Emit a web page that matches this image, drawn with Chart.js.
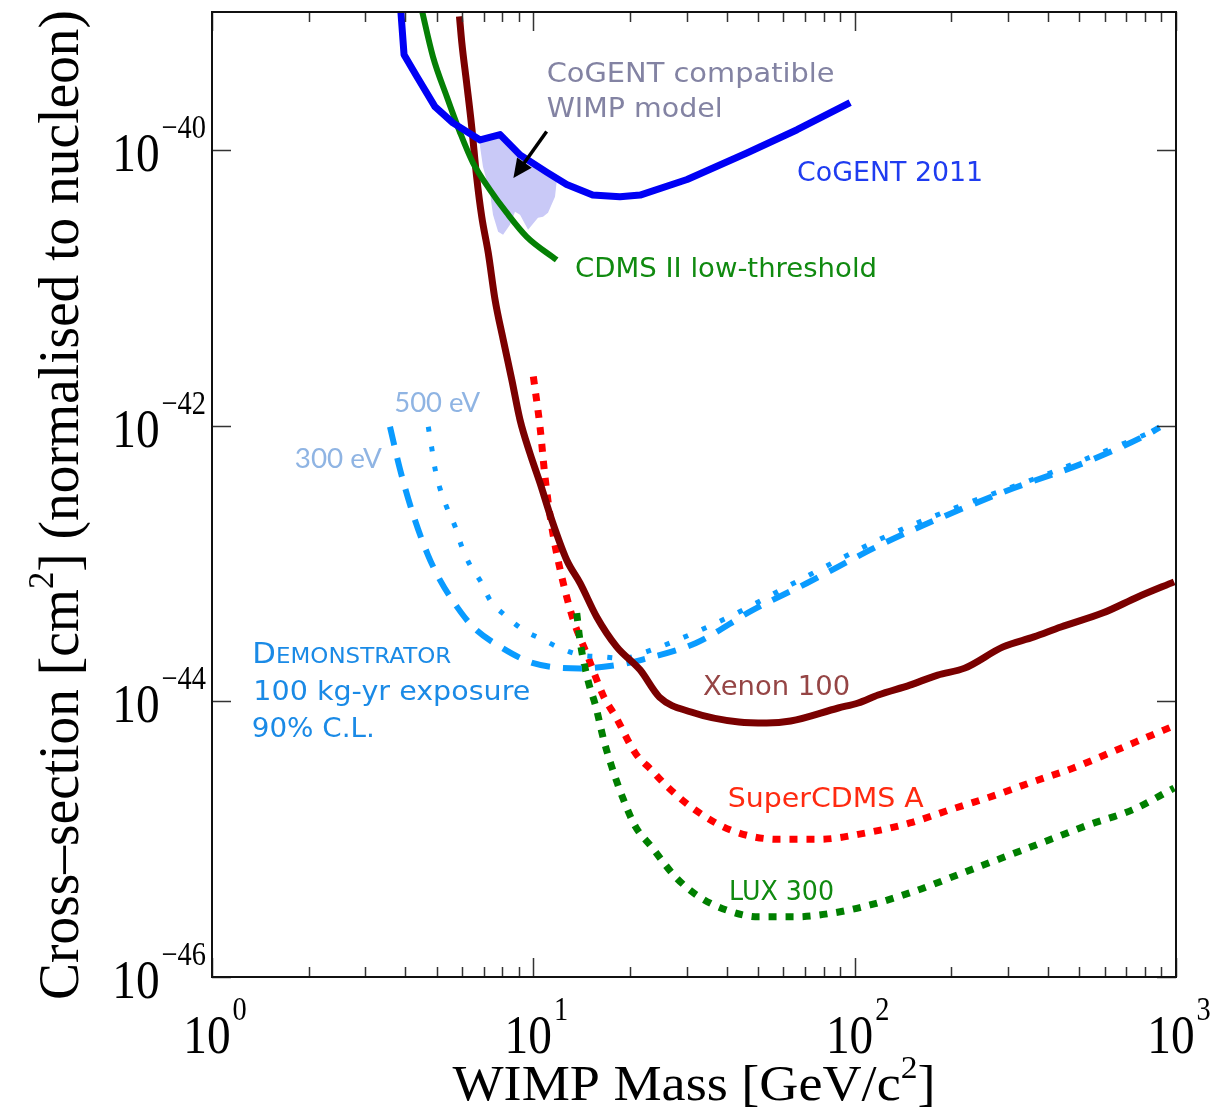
<!DOCTYPE html>
<html>
<head>
<meta charset="utf-8">
<script src="https://cdn.jsdelivr.net/npm/chart.js@4.4.0/dist/chart.umd.min.js"></script>
<style>
  html, body { margin: 0; padding: 0; background: #fff; }
  #wrap { width: 1212px; height: 1117px; }
</style>
</head>
<body>
<div id="wrap"><canvas id="limits" width="1212" height="1117"></canvas></div>
<script>
// WIMP mass [GeV/c^2] vs cross-section [cm^2]

// CoGENT 2011
const cogentMass = [3.86, 3.96, 4.34, 4.94, 5.62, 6.83, 7.88, 9.09, 11.0, 12.7, 15.3, 18.6, 21.5, 30.1, 46.2, 66.2, 96.8];
const cogentXs = [1.1e-39, 4.9e-40, 3.4e-40, 2.06e-40, 1.57e-40, 1.18e-40, 1.29e-40, 9.2e-41, 6.9e-41, 5.6e-41, 4.7e-41, 4.57e-41, 4.7e-41, 6.1e-41, 9.5e-41, 1.4e-40, 2.2e-40];

// CDMS II low-threshold
const cdmsMass = [4.47, 4.87, 5.38, 5.92, 6.49, 7.33, 8.26, 9.54, 11.82];
const cdmsXs = [1.1e-39, 4.75e-40, 2.43e-40, 1.33e-40, 8.05e-41, 5.13e-41, 3.5e-41, 2.34e-41, 1.59e-41];

// Xenon 100
const xenonMass = [5.89, 5.99, 6.20, 6.43, 6.66, 6.91, 7.24, 7.60, 8.06, 8.57, 9.09, 9.76, 10.49, 11.41, 12.70, 13.98, 15.75, 18.18, 21.48, 24.70, 30.97, 43.64, 53.25, 63.17, 88.9, 102.5, 118.3, 148.5, 181.3, 220.0, 289.7, 361.2, 438.4, 593.2, 760.4, 986.5];
const xenonXs = [9.3e-40, 5.99e-40, 3.06e-40, 1.47e-40, 6.4e-41, 3.27e-41, 1.79e-41, 8.2e-42, 4.19e-42, 2.15e-42, 1.10e-42, 6.3e-43, 3.84e-43, 2.07e-43, 1.06e-43, 7.2e-44, 4.09e-44, 2.48e-44, 1.69e-44, 1.07e-44, 8.36e-45, 7.07e-45, 6.95e-45, 7.19e-45, 8.94e-45, 9.72e-45, 1.11e-44, 1.31e-44, 1.55e-44, 1.74e-44, 2.48e-44, 2.93e-44, 3.46e-44, 4.38e-44, 5.71e-44, 7.35e-44];

// SuperCDMS A (projected)
const superMass = [10.0, 10.49, 10.87, 11.41, 12.26, 13.32, 14.78, 16.56, 18.04, 20.80, 23.32, 26.13, 31.88, 41.24, 58.01, 77.1, 108.5, 148.5, 197.4, 270.1, 359.2, 477.3, 634.8, 843.9, 1000];
const superXs = [2.27e-42, 9.8e-43, 4.27e-43, 1.85e-43, 8.0e-44, 3.89e-44, 2.11e-44, 1.08e-44, 7.73e-45, 4.19e-45, 3.17e-45, 2.40e-45, 1.63e-45, 1.16e-45, 9.97e-46, 9.97e-46, 1.11e-45, 1.31e-45, 1.63e-45, 2.06e-45, 2.61e-45, 3.27e-45, 4.31e-45, 5.70e-45, 6.73e-45];

// LUX 300 (projected)
const luxMass = [13.65, 13.96, 14.78, 15.65, 16.56, 17.54, 19.10, 20.80, 23.32, 27.67, 32.81, 40.09, 50.29, 65.0, 84.0, 111.7, 157.2, 215.0, 285.6, 402.5, 535.0, 731.7, 986.5];
const luxXs = [4.36e-44, 2.79e-44, 1.43e-44, 9.15e-45, 5.24e-45, 3.35e-45, 1.92e-45, 1.23e-45, 8.81e-46, 5.33e-46, 3.82e-46, 3.05e-46, 2.73e-46, 2.73e-46, 2.89e-46, 3.33e-46, 4.27e-46, 5.65e-46, 7.26e-46, 9.86e-46, 1.27e-45, 1.63e-45, 2.35e-45];

// DEMONSTRATOR, 300 eV threshold
const demo300Mass = [3.58, 3.85, 4.23, 4.70, 5.12, 5.78, 6.51, 7.88, 10.0, 13.98, 18.18, 21.72, 31.96, 48.3, 70.9, 120.0, 193.5, 311.9, 515.0, 811.2, 890];
const demo300Xs = [9.8e-43, 4.78e-43, 2.25e-43, 1.15e-43, 7.6e-44, 4.86e-44, 3.44e-44, 2.49e-44, 1.89e-44, 1.73e-44, 1.83e-44, 2.0e-44, 2.64e-44, 4.6e-44, 7.18e-44, 1.36e-43, 2.24e-43, 3.51e-43, 5.34e-43, 8.57e-43, 9.7e-43];

// DEMONSTRATOR, 500 eV threshold
const demo500Mass = [4.71, 4.83, 4.94, 5.12, 5.39, 5.71, 5.99, 6.35, 6.91, 7.33, 8.26, 9.31, 10.74, 12.11, 13.98, 16.13, 19.06, 22.54, 32.8, 43.3, 63.6, 124.3, 212.8, 415.4, 755, 830];
const demo500Xs = [9.8e-43, 6.86e-43, 4.91e-43, 3.51e-43, 2.52e-43, 1.85e-43, 1.32e-43, 9.75e-44, 7.18e-44, 5.43e-44, 4.11e-44, 3.29e-44, 2.79e-44, 2.43e-44, 2.17e-44, 2.11e-44, 2.05e-44, 2.29e-44, 3.25e-44, 4.4e-44, 7.06e-44, 1.56e-43, 2.61e-43, 4.63e-43, 8.11e-43, 8.9e-43];

// CoGENT compatible WIMP region (outline)
const regionMass = [6.83, 7.88, 8.88, 10.49, 11.82, 11.68, 11.11, 10.72, 10.34, 9.63, 9.09, 8.77, 8.46, 8.05, 7.77, 7.49, 7.33, 6.97, 6.83];
const regionXs = [1.12e-40, 1.29e-40, 9.5e-41, 7.54e-41, 5.87e-41, 4.57e-41, 3.5e-41, 3.27e-41, 3.22e-41, 2.63e-41, 3.38e-41, 3.56e-41, 2.86e-41, 2.42e-41, 2.55e-41, 3.38e-41, 4.89e-41, 7.54e-41, 1.05e-40];

// axis ticks
const xMajor = [1, 10, 100, 1000];
const xMinorSteps = [2, 3, 4, 5, 6, 7, 8, 9];
const yMajor = [1e-46, 1e-44, 1e-42, 1e-40];
const yExponents = ['\u221246', '\u221244', '\u221242', '\u221240'];
const xExponents = ['0', '1', '2', '3'];

// text labels placed in data coordinates
const notes = [
  { text: 'CoGENT compatible', m: 11.0, s: 3.13e-40, w: 288, color: '#8383a3' },
  { text: 'WIMP model', m: 11.0, s: 1.73e-40, w: 176, color: '#8383a3' },
  { text: 'CoGENT 2011', m: 66.2, s: 5.97e-41, w: 186, color: '#1f3cf0' },
  { text: 'CDMS II low-threshold', m: 13.48, s: 1.20e-41, w: 302, color: '#108a10' },
  { text: '500 eV', m: 3.69, s: 1.26e-42, w: 86, color: '#8fb4e3', family: 'Lato' },
  { text: '300 eV', m: 1.81, s: 4.91e-43, w: 87, color: '#8fb4e3', family: 'Lato' },
  { text: '100 kg-yr exposure', m: 1.345, s: 1.02e-44, w: 277, color: '#1a8ae6' },
  { text: '90% C.L.', m: 1.33, s: 5.48e-45, w: 123, color: '#1a8ae6' },
  { text: 'Xenon 100', m: 33.75, s: 1.11e-44, w: 147, color: '#954545' },
  { text: 'SuperCDMS A', m: 40.27, s: 1.72e-45, w: 196, color: '#ff2a10' },
  { text: 'LUX 300', m: 40.65, s: 3.61e-46, w: 105, color: '#108a10' }
];

function toPoints(xs, ys) {
  return xs.map((x, i) => ({ x: x, y: ys[i] }));
}

function fitText(ctx, text, x, y, width, font, color) {
  ctx.save();
  ctx.font = font;
  ctx.fillStyle = color;
  ctx.textBaseline = 'alphabetic';
  ctx.textAlign = 'left';
  const w = ctx.measureText(text).width;
  ctx.translate(x, y);
  ctx.scale(width / w, 1);
  ctx.fillText(text, 0, 0);
  ctx.restore();
}

// "10" with a raised exponent, sx squeezes the glyphs horizontally
function drawPower(ctx, exp, x, y, align, sx) {
  ctx.save();
  ctx.fillStyle = '#000';
  ctx.textBaseline = 'alphabetic';
  ctx.textAlign = 'left';
  ctx.font = '55px "Liberation Serif"';
  const wb = ctx.measureText('10').width * sx;
  ctx.font = '33px "Liberation Serif"';
  const we = ctx.measureText(exp).width * sx;
  let left = align === 'right' ? x - wb - we - 2 : x - (wb + we + 2) / 2;
  ctx.translate(left, y);
  ctx.scale(sx, 1);
  ctx.font = '55px "Liberation Serif"';
  ctx.fillText('10', 0, 0);
  ctx.font = '33px "Liberation Serif"';
  ctx.fillText(exp, (wb + 2) / sx, -33);
  ctx.restore();
}

// title made of pieces, some raised as superscripts, fitted to a length
function drawTitle(ctx, parts, width, size) {
  const supSize = Math.round(size * 0.62);
  let total = 0;
  parts.forEach(p => {
    ctx.font = (p.sup ? supSize : size) + 'px "Liberation Serif"';
    p.w = ctx.measureText(p.t).width;
    total += p.w;
  });
  ctx.scale(width / total, 1);
  let x = -total / 2;
  parts.forEach(p => {
    ctx.font = (p.sup ? supSize : size) + 'px "Liberation Serif"';
    ctx.fillText(p.t, x, p.sup ? -size * 0.45 : 0);
    x += p.w;
  });
}

const framePlugin = {
  id: 'frame',
  afterDatasetsDraw(chart) {
    const ctx = chart.ctx;
    const xs = chart.scales.x, ys = chart.scales.y;
    const family = '"DejaVu Sans"';

    notes.forEach(n => {
      const f = (n.family ? n.family : family);
      fitText(ctx, n.text, xs.getPixelForValue(n.m), ys.getPixelForValue(n.s), n.w, '27px ' + f, n.color);
    });

    // DEMONSTRATOR in small caps
    const dx = xs.getPixelForValue(1.335), dy = ys.getPixelForValue(1.91e-44);
    ctx.save();
    ctx.fillStyle = '#1a8ae6';
    ctx.font = '28px ' + family;
    const w1 = ctx.measureText('D').width;
    ctx.font = '21px ' + family;
    const w2 = ctx.measureText('EMONSTRATOR').width;
    ctx.translate(dx, dy);
    ctx.scale(199 / (w1 + w2), 1);
    ctx.font = '28px ' + family;
    ctx.fillText('D', 0, 0);
    ctx.font = '21px ' + family;
    ctx.fillText('EMONSTRATOR', w1, 0);
    ctx.restore();

    // arrow to the CoGENT region
    const x1 = xs.getPixelForValue(11.0), y1 = ys.getPixelForValue(1.36e-40);
    const x2 = xs.getPixelForValue(8.67), y2 = ys.getPixelForValue(6.24e-41);
    const ang = Math.atan2(y2 - y1, x2 - x1);
    const head = 19, half = 9;
    ctx.save();
    ctx.strokeStyle = '#000';
    ctx.fillStyle = '#000';
    ctx.lineWidth = 3.5;
    ctx.beginPath();
    ctx.moveTo(x1, y1);
    ctx.lineTo(x2 - Math.cos(ang) * head * 0.8, y2 - Math.sin(ang) * head * 0.8);
    ctx.stroke();
    ctx.beginPath();
    ctx.moveTo(x2, y2);
    ctx.lineTo(x2 - Math.cos(ang) * head + Math.sin(ang) * half, y2 - Math.sin(ang) * head - Math.cos(ang) * half);
    ctx.lineTo(x2 - Math.cos(ang) * head - Math.sin(ang) * half, y2 - Math.sin(ang) * head + Math.cos(ang) * half);
    ctx.closePath();
    ctx.fill();
    ctx.restore();
  },
  afterDraw(chart) {
    const ctx = chart.ctx;
    const a = chart.chartArea;
    const xs = chart.scales.x, ys = chart.scales.y;

    ctx.save();
    ctx.strokeStyle = '#333';
    ctx.lineWidth = 1.5;
    ctx.beginPath();
    xMajor.forEach((d, i) => {
      const px = Math.round(xs.getPixelForValue(d)) + 0.5;
      ctx.moveTo(px, a.bottom); ctx.lineTo(px, a.bottom - 19);
      ctx.moveTo(px, a.top); ctx.lineTo(px, a.top + 19);
      if (i < xMajor.length - 1) {
        xMinorSteps.forEach(k => {
          const qx = Math.round(xs.getPixelForValue(d * k)) + 0.5;
          ctx.moveTo(qx, a.bottom); ctx.lineTo(qx, a.bottom - 10);
          ctx.moveTo(qx, a.top); ctx.lineTo(qx, a.top + 10);
        });
      }
    });
    yMajor.forEach(v => {
      const py = Math.round(ys.getPixelForValue(v)) + 0.5;
      ctx.moveTo(a.left, py); ctx.lineTo(a.left + 19, py);
      ctx.moveTo(a.right, py); ctx.lineTo(a.right - 19, py);
    });
    ctx.stroke();

    ctx.strokeStyle = '#111';
    ctx.lineWidth = 2;
    ctx.strokeRect(a.left, a.top, a.right - a.left, a.bottom - a.top);
    ctx.restore();

    // tick labels
    xMajor.forEach((d, i) => drawPower(ctx, xExponents[i], xs.getPixelForValue(d) + 3, a.bottom + 76, 'center', 0.86));
    yMajor.forEach((v, i) => drawPower(ctx, yExponents[i], a.left - 6, ys.getPixelForValue(v) + 21, 'right', 0.86));

    // axis titles
    ctx.save();
    ctx.fillStyle = '#000';
    ctx.textBaseline = 'alphabetic';
    ctx.translate(694, 1100);
    drawTitle(ctx, [{ t: 'WIMP Mass [GeV/c' }, { t: '2', sup: true }, { t: ']' }], 483, 50);
    ctx.restore();

    ctx.save();
    ctx.fillStyle = '#000';
    ctx.textBaseline = 'alphabetic';
    ctx.translate(78, 505);
    ctx.rotate(-Math.PI / 2);
    drawTitle(ctx, [{ t: 'Cross\u2013section [cm' }, { t: '2', sup: true }, { t: '] (normalised to nucleon)' }], 990, 56);
    ctx.restore();
  }
};

const curve = {
  showLine: true,
  pointRadius: 0,
  fill: false,
  cubicInterpolationMode: 'monotone',
  borderCapStyle: 'butt',
  borderJoinStyle: 'round'
};

new Chart(document.getElementById('limits'), {
  type: 'scatter',
  data: {
    datasets: [
      Object.assign({}, curve, { label: 'CoGENT 2011', data: toPoints(cogentMass, cogentXs), borderColor: '#0000f5', borderWidth: 7, cubicInterpolationMode: 'default', tension: 0, order: 1 }),
      Object.assign({}, curve, { label: 'CDMS II low-threshold', data: toPoints(cdmsMass, cdmsXs), borderColor: '#058005', borderWidth: 6, order: 2 }),
      Object.assign({}, curve, { label: 'Xenon 100', data: toPoints(xenonMass, xenonXs), borderColor: '#7a0000', borderWidth: 7, order: 3 }),
      Object.assign({}, curve, { label: 'DEMONSTRATOR 300 eV', data: toPoints(demo300Mass, demo300Xs), borderColor: '#0a9bff', borderWidth: 6, borderDash: [19, 13], order: 4 }),
      Object.assign({}, curve, { label: 'DEMONSTRATOR 500 eV', data: toPoints(demo500Mass, demo500Xs), borderColor: '#0a9bff', borderWidth: 5, borderDash: [5, 15], order: 5 }),
      Object.assign({}, curve, { label: 'LUX 300', data: toPoints(luxMass, luxXs), borderColor: '#007f00', borderWidth: 7, borderDash: [8, 9], order: 6 }),
      Object.assign({}, curve, { label: 'SuperCDMS A', data: toPoints(superMass, superXs), borderColor: '#ff0000', borderWidth: 7, borderDash: [8, 9], order: 7 }),
      { label: 'CoGENT region', data: toPoints(regionMass, regionXs), showLine: true, pointRadius: 0, tension: 0,
        borderWidth: 0, borderColor: 'rgba(0,0,0,0)', backgroundColor: '#c9c9f7', fill: 'shape', order: 8 }
    ]
  },
  options: {
    responsive: false,
    animation: false,
    devicePixelRatio: 1,
    layout: { padding: { left: 212, right: 36, top: 12, bottom: 140 } },
    plugins: { legend: { display: false }, tooltip: { enabled: false } },
    scales: {
      x: { type: 'logarithmic', min: 1, max: 1000, display: false },
      y: { type: 'logarithmic', min: 1e-46, max: 1e-39, display: false }
    }
  },
  plugins: [framePlugin]
});
</script>
</body>
</html>
